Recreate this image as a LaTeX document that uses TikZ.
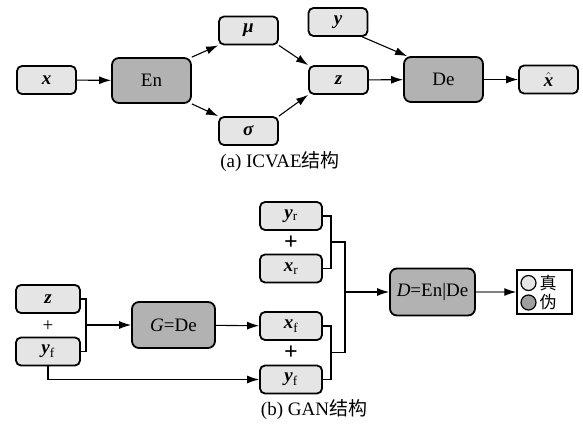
\documentclass[tikz,border=0pt]{standalone}
\usepackage{amsmath}
\usepackage{fontspec}
\setmainfont{Liberation Serif}
\newfontfamily\cjk{Noto Sans CJK SC}
\usetikzlibrary{arrows.meta}
\newcommand{\bv}[1]{\textbf{\textit{#1}}}

\begin{document}
\begin{tikzpicture}[x=1pt, y=-1pt, font=\fontsize{19}{22}\selectfont,
	lbox/.style={draw, line width=1.8pt, rounded corners=5pt, fill=gray!20, minimum width=59pt, minimum height=28pt, inner sep=0pt},
	gbox/.style={draw, line width=1.8pt, rounded corners=7pt, fill=gray!60, minimum width=79pt, minimum height=45pt, inner sep=0pt},
	arr/.style={-{Latex[length=12pt,width=8pt]}, line width=1.1pt},
	ln/.style={line width=1.1pt},
	pls/.style={font=\fontsize{24}{24}\selectfont\bfseries, inner sep=0pt}]
	\useasboundingbox (0,0) rectangle (583,434);
	% (a) ICVAE
	\node[lbox] (x) at (46.5,80) {\bv{x}};
	\node[gbox] (en) at (151.5,80.5) {En};
	\node[lbox] (mu) at (248.5,30.5) {\bv{μ}};
	\node[lbox] (sig) at (248.5,131) {\bv{σ}};
	\node[lbox] (z) at (338.5,80) {\bv{z}};
	\node[lbox] (y) at (338,22) {\bv{y}};
	\node[gbox] (de) at (443.5,79.5) {De};
	\node[lbox] (xh) at (548.5,79.5) {$\hat{\text{\bv{x}}}$};
	\draw[arr] (x) -- (en);
	\draw[arr] (en.north east) -- (mu.south west);
	\draw[arr] (en.south east) -- (sig.north west);
	\draw[arr] (mu.south east) -- (z.north west);
	\draw[arr] (sig.north east) -- (z.south west);
	\draw[arr] ([xshift=-6pt]y.south east) -- ([xshift=4pt]de.north west);
	\draw[arr] (z) -- (de);
	\draw[arr] (de) -- (xh);
	\node (capa) at (280,162) {(a) ICVAE{\cjk 结构}};
	% (b) GAN
	\node[lbox, minimum width=64pt] (zl) at (48,299) {\bv{z}};
	\node (pl) at (48,326) {+};
	\node[lbox, minimum width=64pt] (yl) at (48,351.5) {\bv{y}\textsubscript{f}};
	\node[gbox, minimum width=83pt, minimum height=46pt] (gen) at (173.5,325) {\textit{G}=De};
	\node[lbox, minimum width=62pt] (yr) at (291,216) {\bv{y}\textsubscript{r}};
	\node[pls] (p1) at (291,242.5) {+};
	\node[lbox, minimum width=62pt] (xr) at (291,268.5) {\bv{x}\textsubscript{r}};
	\node[lbox, minimum width=62pt] (xf) at (291,326) {\bv{x}\textsubscript{f}};
	\node[pls] (p2) at (291,352.5) {+};
	\node[lbox, minimum width=62pt] (yf) at (291,379.5) {\bv{y}\textsubscript{f}};
	\node[gbox, minimum width=85pt, minimum height=47pt] (dis) at (432.5,292) {\textit{D}=En|De};
	\node[draw, line width=1.5pt, minimum width=55pt, minimum height=44pt] (out) at (544.5,292) {};
	\node[circle, draw, line width=1.2pt, fill=gray!20, minimum size=15pt, inner sep=0pt] (c1) at (528.5,283) {};
	\node[circle, draw, line width=1.2pt, fill=gray!75, minimum size=15pt, inner sep=0pt] (c2) at (528.5,302.5) {};
	\node[font={\fontsize{17}{17}\selectfont\cjk}, inner sep=0pt] (t1) at (548,283) {真};
	\node[font={\fontsize{17}{17}\selectfont\cjk}, inner sep=0pt] (t2) at (548,302.5) {伪};
	% brackets
	\coordinate (bl) at (86,325);
	\draw[ln] (zl.east) -| (bl) |- (yl.east);
	\draw[arr] (bl) -- (gen);
	\draw[arr] (gen) -- (xf);
	\draw[arr] (yl.south) |- (yf.west);
	\coordinate (rt) at (331,242);
	\coordinate (fk) at (331,352.5);
	\coordinate (jn) at (345,292);
	\draw[ln] (yr.east) -| (rt) |- (xr.east);
	\draw[ln] (xf.east) -| (fk) |- (yf.east);
	\draw[ln] (rt) -- (rt -| jn) -- (fk -| jn) -- (fk);
	\draw[arr] (jn) -- (dis);
	\draw[line width=1.1pt, gray, -{Latex[length=12pt,width=8pt,color=black]}] (dis) -- (out);
	\node (capb) at (314,410) {(b) GAN{\cjk 结构}};
\end{tikzpicture}
\end{document}
